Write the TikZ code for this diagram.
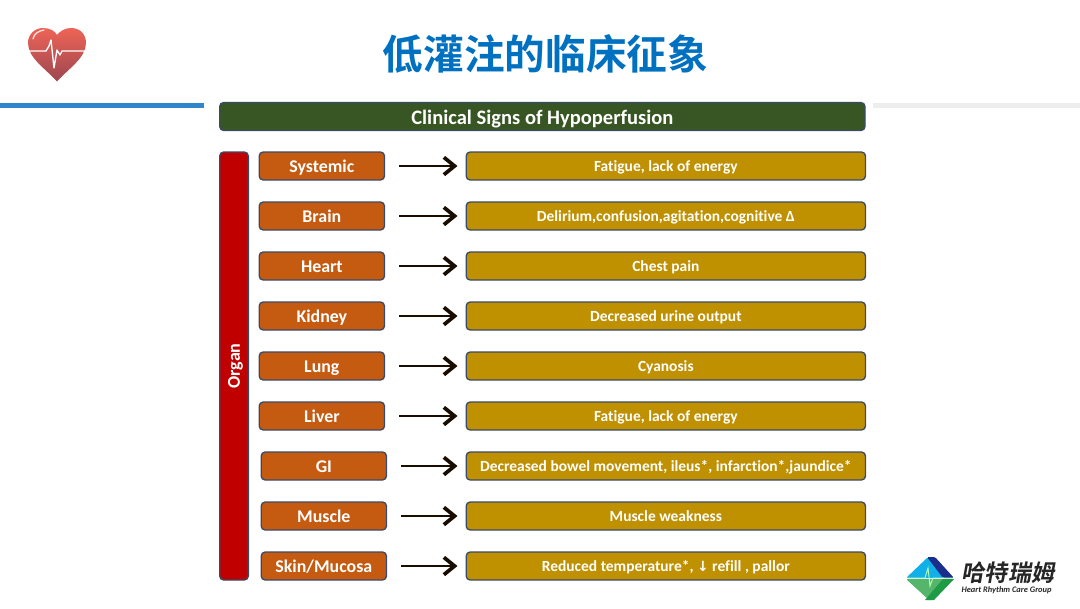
\documentclass[tikz,border=0pt]{standalone}
\usepackage{fontspec}
\usepackage{xcolor}
\usetikzlibrary{arrows.meta}
\setmainfont{Carlito}[Ligatures=NoCommon]
\newfontfamily\cjk{Noto Sans CJK SC}[BoldFont=* Bold]
\newfontfamily\cjkslant{Noto Sans CJK SC Bold}[FakeSlant=0.18]
\newfontfamily\symfont{DejaVu Sans}
\definecolor{titleblue}{HTML}{0070C0}
\definecolor{ruleblue}{HTML}{2E86CB}
\definecolor{headgreen}{HTML}{375623}
\definecolor{organred}{HTML}{C00000}
\definecolor{organorange}{HTML}{C55A11}
\definecolor{signgold}{HTML}{BF9000}
\definecolor{edgeblue}{HTML}{3B4A66}
\definecolor{hearttop}{HTML}{EE6456}
\definecolor{heartlow}{HTML}{9C4650}
\definecolor{logosky}{HTML}{12B0E8}
\definecolor{logonavy}{HTML}{1A2F8C}
\definecolor{logogreen}{HTML}{55B56A}
\definecolor{logoforest}{HTML}{1F9A45}
\begin{document}
\begin{tikzpicture}[x=0.75pt,y=-0.75pt]
        \tikzset{box/.style={draw=edgeblue,line width=1pt,rounded corners=3pt,text=white,
                inner sep=0pt,anchor=west,minimum height=21pt,text height=10.5pt,text depth=2pt},
            organbox/.style={box,fill=organorange,minimum width=94pt,text height=11.5pt,font=\fontsize{13.4}{15}\selectfont\bfseries},
            signbox/.style={box,fill=signgold,minimum width=299.5pt,font=\fontsize{11.6}{13}\selectfont\bfseries},
            link/.style={-{Straight Barb[length=8pt,width=13pt,line width=2.8pt]},line width=2.15pt,
                black!90!orange,shorten <=10.5pt,shorten >=6pt}}
        \useasboundingbox (0,0) rectangle (1080,608);
        % top rules and title
        \fill[ruleblue] (0,102.5) rectangle (204,107.5);
        \fill[black!7] (873,102.5) rectangle (1080,107.5);
        \node (title) at (545.5,54) {\cjk\bfseries\fontsize{30.5}{36}\selectfont\textcolor{titleblue}{低灌注的临床征象}};
        \node[box,fill=headgreen,minimum width=484pt,text height=14.5pt,text depth=2.5pt,font=\fontsize{15.4}{18}\selectfont\bfseries] (head) at (219,116.5) {Clinical Signs of Hypoperfusion};
        \node[box,fill=organred,minimum width=21.5pt,minimum height=321pt] (organ) at (219,366) {};
        \node[rotate=90,text=white,font=\fontsize{13.5}{15}\selectfont\bfseries] (organlabel) at (235.5,366) {Organ};
        % rows
        \foreach \name/\xpos/\ypos/\organtext/\signtext in {
            systemic/258.5/166/Systemic/{Fatigue, lack of energy},
            brain/258.5/216/Brain/{Delirium,confusion,agitation,cognitive Δ},
            heart/258.5/266/Heart/{Chest pain},
            kidney/258.5/316/Kidney/{Decreased urine output},
            lung/258.5/366/Lung/{Cyanosis},
            liver/258.5/416/Liver/{Fatigue, lack of energy},
            gi/260.5/466/GI/{Decreased bowel movement, ileus*, infarction*,jaundice*},
            muscle/260.5/516/Muscle/{Muscle weakness},
            skin/260.5/566/Skin\slash Mucosa/{Reduced temperature*, {\symfont\fontsize{10.5}{12}\selectfont ↓} refill , pallor}}
        {
            \node[organbox] (\name) at (\xpos,\ypos) {\organtext};
            \node[signbox] (\name sign) at (465.5,\ypos) {\signtext};
            \draw[link] (\name) -- (\name sign);
        }
        % heart icon
        \path[top color=hearttop,bottom color=heartlow]
            (57,81.5) .. controls (46,69) and (28,58) .. (28,43)
            .. controls (28,34) and (35,28) .. (43,28)
            .. controls (50,28) and (55,31) .. (57,35)
            .. controls (60,31) and (65,28) .. (71,28)
            .. controls (80,28) and (86,34) .. (86,43)
            .. controls (86,58) and (68,69) .. (57,81.5) -- cycle;
        \draw[white!85!hearttop,line width=0.9pt,line cap=round] (33,39) .. controls (34,34) and (38,31) .. (44,30);
        \draw[white,line width=1pt,line join=round] (29,51) -- (46,51) -- (49,46) -- (51,40) -- (54,68) -- (57,50) -- (60,55) -- (62,51) -- (85,51);
        % logo
        \fill[logosky,rounded corners=1.5pt] (906,578) -- (928,557) -- (944,578) -- cycle;
        \fill[logonavy,rounded corners=1pt] (927,557) -- (935,557) -- (954,578) -- (943,578) -- cycle;
        \fill[logogreen,rounded corners=1.5pt] (906,579) -- (954,579) -- (931,600) -- (929,600) -- cycle;
        \fill[logoforest] (954,579) -- (934,600) -- (925,600) -- (943,579) -- cycle;
        \draw[white!70!green,line width=0.7pt] (907,578) -- (925,578) -- (928,568) -- (930,586) -- (933,578) -- (953,578);
        \node[text=black!85,inner sep=0pt] (logotext) at (1008,573) {\cjkslant\fontsize{17.3}{20}\selectfont 哈特瑞姆};
        \node[text=black!85,inner sep=0pt,font=\fontsize{6.3}{7}\selectfont\itshape\bfseries] (logosub) at (1006.5,590) {Heart Rhythm Care Group};
\end{tikzpicture}
\end{document}
